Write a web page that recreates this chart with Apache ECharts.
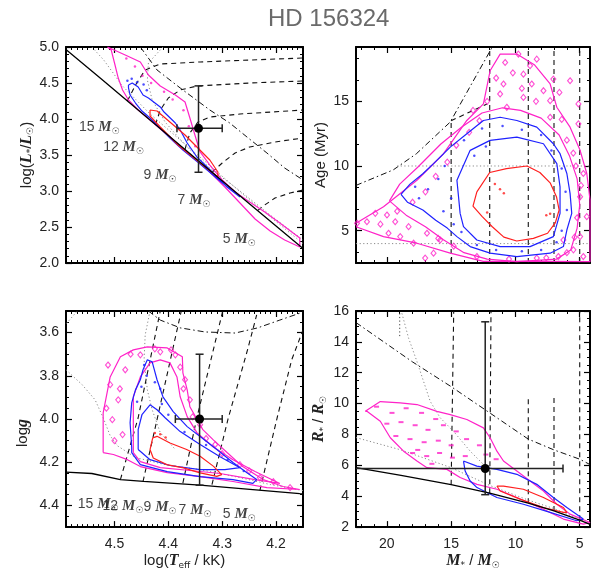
<!DOCTYPE html>
<html>
<head>
<meta charset="utf-8">
<title>HD 156324</title>
<script src="https://cdn.jsdelivr.net/npm/echarts@6.0.0/dist/echarts.min.js"></script>
<style>
  html, body { margin: 0; padding: 0; background: #fff; }
  #chart { width: 591px; height: 571px; }
</style>
</head>
<body>
<div id="chart"></div>
<script>
// ---------- values ----------
var massLabels = [15, 12, 9, 7, 5];

// tick values
var teffMajor = [4.2, 4.3, 4.4, 4.5];
var lumMajor  = [2.0, 2.5, 3.0, 3.5, 4.0, 4.5, 5.0];
var massMajor = [5, 10, 15, 20];
var ageMajor  = [5, 10, 15];
var loggMajor = [3.6, 3.8, 4.0, 4.2, 4.4];
var radMajor  = [2, 4, 6, 8, 10, 12, 14, 16];

// panel 1 : log Teff vs log L
var hrdZams  = [[4.589,4.958],[4.526,4.567],[4.434,3.986],[4.341,3.40],[4.249,2.82],[4.150,2.20]];
var hrdIso4  = [[4.542,5.0],[4.520,4.82],[4.502,4.634],[4.486,4.465],[4.434,4.07],[4.341,3.47],[4.249,2.875],[4.150,2.27]];
var hrdIso10 = [[4.410,5.0],[4.437,4.778],[4.439,4.542],[4.430,4.264],[4.406,3.958],[4.369,3.639],[4.323,3.319],[4.267,3.0],[4.211,2.667],[4.150,2.319]];
var hrdTams  = [[4.452,5.0],[4.421,4.681],[4.378,4.431],[4.323,4.125],[4.286,3.944],[4.254,3.75],[4.217,3.528],[4.184,3.319],[4.150,3.153]];
var hrdTrk15 = [[4.476,4.25],[4.461,4.472],[4.443,4.681],[4.415,4.764],[4.341,4.792],[4.249,4.819],[4.150,4.847]];
var hrdTrk12 = [[4.424,3.92],[4.415,4.125],[4.400,4.292],[4.378,4.403],[4.347,4.458],[4.249,4.5],[4.150,4.528]];
var hrdTrk9  = [[4.369,3.58],[4.360,3.806],[4.345,3.958],[4.323,4.028],[4.267,4.069],[4.150,4.125]];
var hrdTrk7  = [[4.319,3.26],[4.300,3.389],[4.276,3.528],[4.249,3.611],[4.202,3.681],[4.150,3.736]];
var hrdTrk5  = [[4.234,2.73],[4.221,2.806],[4.202,2.903],[4.174,2.972],[4.150,3.014]];
var hrdMag   = [[4.513,5.0],[4.480,4.889],[4.452,4.792],[4.437,4.611],[4.415,4.458],[4.387,4.333],[4.369,4.236],[4.360,4.014],[4.349,3.736],[4.341,3.542],[4.323,3.361],[4.300,3.153],[4.276,2.986],[4.249,2.847],[4.221,2.708],[4.193,2.556],[4.156,2.347],
                [4.156,2.222],[4.184,2.319],[4.211,2.444],[4.239,2.611],[4.267,2.833],[4.295,3.056],[4.323,3.264],[4.350,3.444],[4.378,3.625],[4.406,3.806],[4.434,3.986],[4.456,4.125],[4.474,4.264],[4.485,4.403],[4.493,4.569],[4.499,4.750],[4.506,4.958],[4.513,5.0]];
var hrdBlue  = [[4.474,4.472],[4.467,4.5],[4.456,4.444],[4.447,4.333],[4.437,4.292],[4.415,4.167],[4.408,4.097],[4.387,3.944],[4.378,3.847],[4.365,3.667],[4.347,3.472],[4.328,3.333],[4.291,3.056],[4.267,2.917],
                [4.274,2.958],[4.304,3.139],[4.341,3.375],[4.373,3.569],[4.397,3.736],[4.415,3.875],[4.434,4.014],[4.449,4.111],[4.461,4.222],[4.471,4.333],[4.474,4.431],[4.474,4.472]];
var hrdRed   = [[4.434,4.125],[4.421,4.111],[4.369,3.778],[4.323,3.431],[4.308,3.264],[4.308,3.194],[4.341,3.389],[4.382,3.639],[4.415,3.889],[4.434,4.042],[4.434,4.125]];
var hrdMagBits  = [[4.478,4.84],[4.462,4.73],[4.448,4.60],[4.432,4.50],[4.408,4.38],[4.392,4.27],[4.372,4.12],[4.362,3.90],[4.350,3.62]];
var hrdBlueBits = [[4.476,4.53],[4.468,4.56],[4.458,4.51],[4.446,4.48],[4.440,4.40]];
var hrdLabelPos = [[4.567,3.89],[4.522,3.61],[4.447,3.22],[4.384,2.875],[4.300,2.333]];
var hrdStar  = [4.344, 3.87, 4.384, 4.300, 3.26, 4.46];   // x, y, x-lo, x-hi, y-lo, y-hi

// panel 2 : mass vs age
var ageTrkMass = [15, 12, 9, 7, 5];
var ageTrkTop  = [13.5, 19.2, 19.2, 19.2, 19.2];
var ageHook15  = [[15.0,13.5],[12.2,14.8]];
var ageTams    = [[22.4,8.5],[19.5,9.7],[17.7,10.95],[15.07,13.4],[11.8,19.2]];
var ageIso4    = [[22.4,4.0],[4.2,4.0]];
var ageIso10   = [[19.2,10.0],[4.2,10.0]];
var ageMagOut  = [[22.4,5.57],[20.26,6.85],[17.66,8.9],[15.59,10.95],[13.78,13.52],[12.49,14.8],[11.97,17.36],[11.19,18.65],[9.89,18.65],[8.5,17.8],[7.30,16.34],[6.78,14.54],[5.75,13.0],[4.97,11.21],[4.45,9.42],[4.2,7.4],
                  [4.2,2.6],[7.30,2.62],[12.5,2.62],[15.07,3.26],[17.66,4.03],[20.26,4.54],[22.4,5.3]];
var ageMagIn   = [[19.8,7.3],[19.0,8.6],[17.6,9.9],[15.8,11.7],[14.2,13.0],[12.6,14.1],[11.0,14.5],[9.6,14.3],[8.0,13.7],[6.6,12.4],[5.8,10.8],[5.2,9.0],[5.0,7.0],[5.2,5.2],[5.7,3.5],[6.8,2.8],[9.9,2.6],[12.2,2.8],[14.0,3.3],[15.6,4.3],[17.0,5.3],[18.5,6.2],[19.8,7.3]];
var ageBlueOut = [[18.9,7.8],[18.2,8.6],[17.2,9.4],[16.37,10.18],[15.07,11.46],[13.78,12.49],[12.49,13.52],[11.19,13.77],[9.89,13.52],[8.34,13.0],[7.05,11.72],[6.53,10.95],[6.0,9.42],[5.75,7.88],[5.62,6.34],[6.0,5.05],[6.27,3.77],[7.30,3.26],[9.89,3.0],[11.97,3.26],[13.52,3.77],[14.55,4.54],[15.3,5.2],[16.2,5.8],[17.2,6.6],[18.4,7.2],[18.9,7.8]];
var ageBlueIn  = [[14.3,6.34],[14.55,8.9],[13.52,11.21],[11.97,11.98],[9.89,12.23],[7.82,11.72],[6.78,10.18],[6.53,8.38],[6.53,6.34],[7.05,4.54],[8.86,3.77],[11.19,3.77],[13.0,4.28],[14.04,5.31],[14.3,6.34]];
var ageRed     = [[13.0,8.0],[12.0,9.5],[10.7,9.8],[9.1,10.0],[8.1,9.5],[7.3,8.7],[6.8,7.6],[6.6,6.6],[6.9,5.6],[7.5,4.8],[8.6,4.4],[9.9,4.2],[10.9,4.5],[11.8,5.3],[12.6,6.1],[13.3,6.9],[13.0,8.0]];
var ageMagBits = [[9.77,18.65],[8.34,18.26],[8.86,17.75],[10.8,18.0],[9.38,17.1],[10.93,16.34],[7.05,16.72],[6.58,15.69],[5.75,16.59],[5.10,14.8],[5.10,13.26],[8.73,16.34],[7.82,15.82],[7.30,15.05],
                  [10.67,14.54],[9.38,15.3],[11.19,15.57],[7.30,13.77],
                  [22.32,5.57],[21.55,5.69],[20.9,6.34],[19.99,6.21],[19.35,5.69],[19.87,4.80],[18.96,4.54],[18.31,5.31],[17.92,4.03],[16.88,4.80],[16.37,3.26],[17.02,2.88],[15.85,4.28],
                  [6.27,4.28],[5.49,3.52],[4.72,3.0],[4.97,4.54],[4.45,6.08],[4.97,7.62],[4.72,9.42],[6.66,3.0],[8.34,2.88],
                  [20.5,5.5],[19.2,6.5],[18.0,7.2],[17.0,8.0],[16.2,9.2],[15.3,10.3],[14.6,11.6],[13.6,12.6],[12.8,13.5],[13.3,14.3],[12.2,15.0],[11.5,16.8],[10.2,17.2],[9.5,16.0],[8.4,15.0],
                  [6.4,13.6],[6.0,12.0],[5.5,11.0],[5.3,10.0],[4.9,8.5],[5.2,6.0],[5.4,4.5],[6.0,3.3],[7.6,2.9],[10.5,2.8],[13.0,3.0],[14.8,3.8],[16.0,4.4]];
var ageBlueBits = [[15.5,10.0],[16.0,9.0],[15.0,7.5],[15.6,6.5],[14.8,5.5],[14.0,12.0],[12.6,12.9],[11.0,13.1],[9.5,12.8],[8.0,12.4],[7.2,11.2],[6.4,9.8],[6.1,8.0],[6.0,6.6],[6.4,5.0],[6.8,4.1],
                   [8.0,3.5],[9.5,3.4],[11.5,3.5],[13.0,3.9],[14.2,4.9],[17.5,7.5],[16.8,8.2],[17.8,8.4],[13.2,10.8],[12.3,11.5]];
var ageRedBits  = [[11.6,8.6],[11.2,8.2],[10.9,7.9],[12.2,6.4],[7.6,6.2],[7.3,6.3]];

// panel 3 : log Teff vs log g
var kielZams  = [[4.590,4.246],[4.542,4.252],[4.489,4.280],[4.446,4.288],[4.341,4.306],[4.156,4.345],[4.150,4.346]];
var kielIsoA  = [[4.570,3.503],[4.590,3.56]];
var kielIsoB  = [[4.590,3.772],[4.560,3.841],[4.536,3.911],[4.521,3.994],[4.508,4.077],[4.495,4.123],[4.461,4.178],[4.406,4.211],[4.341,4.234],[4.267,4.271],[4.211,4.303],[4.150,4.331]];
var kielIsoC  = [[4.434,3.5],[4.443,3.611],[4.445,3.726],[4.439,3.865],[4.430,3.957],[4.415,4.063],[4.387,4.141]];
var kielTams  = [[4.437,3.5],[4.415,3.542],[4.378,3.578],[4.332,3.597],[4.276,3.602],[4.234,3.578],[4.193,3.542],[4.150,3.505]];
var kielTrk15 = [[4.489,4.280],[4.456,3.994],[4.415,3.5]];
var kielTrk12 = [[4.447,4.289],[4.421,4.003],[4.376,3.5]];
var kielTrk9  = [[4.373,4.296],[4.347,3.994],[4.299,3.5]];
var kielTrk7  = [[4.319,4.303],[4.289,3.998],[4.253,3.680],[4.236,3.518]];
var kielTrk5  = [[4.230,4.330],[4.198,3.994],[4.171,3.726],[4.150,3.588]];
var kielMagOut = [[4.521,4.155],[4.521,3.971],[4.508,3.805],[4.489,3.712],[4.465,3.680],[4.439,3.666],[4.402,3.671],[4.374,3.712],[4.373,3.786],[4.365,3.865],[4.360,3.943],[4.336,4.049],[4.317,4.095],[4.291,4.155],[4.262,4.220],[4.224,4.280],[4.187,4.312],[4.156,4.326],
                  [4.156,4.335],[4.217,4.317],[4.280,4.289],[4.341,4.266],[4.402,4.248],[4.452,4.220],[4.476,4.188],[4.502,4.164],[4.521,4.155]];
var kielMagIn  = [[4.465,4.155],[4.465,3.897],[4.452,3.805],[4.434,3.740],[4.415,3.726],[4.397,3.740],[4.384,3.805],[4.378,3.897],[4.365,3.989],[4.347,4.063],[4.317,4.128],[4.280,4.188],[4.239,4.243],[4.193,4.298],
                  [4.239,4.280],[4.304,4.252],[4.360,4.238],[4.415,4.225],[4.452,4.197],[4.465,4.155]];
var kielBlueOut = [[4.468,4.132],[4.471,4.017],[4.468,3.925],[4.461,3.865],[4.452,3.818],[4.447,3.772],[4.439,3.726],[4.430,3.735],[4.421,3.818],[4.410,3.897],[4.391,3.966],[4.365,4.035],[4.341,4.081],[4.310,4.141],[4.280,4.201],[4.254,4.248],[4.236,4.280],
                   [4.243,4.298],[4.280,4.280],[4.341,4.266],[4.402,4.243],[4.452,4.211],[4.468,4.155],[4.468,4.132]];
var kielBlueIn  = [[4.456,4.141],[4.456,4.049],[4.449,3.980],[4.434,3.934],[4.421,3.957],[4.406,3.994],[4.378,4.058],[4.341,4.118],[4.304,4.174],[4.267,4.225],[4.295,4.234],[4.341,4.234],[4.397,4.215],[4.434,4.188],[4.456,4.141]];
var kielRed  = [[4.429,4.087],[4.421,4.080],[4.397,4.111],[4.366,4.141],[4.341,4.172],[4.316,4.219],[4.301,4.257],[4.310,4.265],[4.341,4.249],[4.372,4.226],[4.403,4.211],[4.428,4.180],[4.434,4.141],[4.429,4.087]];
var kielMagBits = [[4.508,3.841],[4.493,3.911],[4.504,4.003],[4.485,4.072],[4.480,3.772],[4.452,3.703],[4.415,3.689],[4.387,3.703],[4.369,3.818],[4.360,3.911],[4.341,4.026],[4.313,4.118],[4.267,4.211],[4.230,4.271],[4.174,4.317],
                   [4.512,3.75],[4.515,3.95],[4.500,4.10],[4.490,3.86],[4.470,3.70],[4.425,3.675],[4.395,3.68],[4.378,3.76],[4.372,3.86],[4.355,3.99],[4.330,4.09],[4.300,4.16],[4.250,4.24],[4.205,4.29]];
var kielBlueBits = [[4.445,3.75],[4.440,3.80],[4.450,3.85],[4.458,3.92],[4.425,3.83],[4.415,3.86],[4.412,3.93],[4.400,3.98],[4.370,4.06],[4.330,4.12],[4.290,4.19],[4.260,4.24]];
var kielRedBits  = [[4.425,4.065],[4.415,4.07],[4.405,4.085]];
var kielLabelPos = [[4.569,4.395],[4.523,4.404],[4.447,4.409],[4.382,4.423],[4.300,4.441]];
var kielStar = [4.342, 4.0, 4.387, 4.300, 3.70, 4.306];

// panel 4 : mass vs radius
var mrZams  = [[22.4,5.85],[18.9,5.35],[15.0,4.75],[12.0,4.2],[9.0,3.55],[7.0,3.05],[5.0,2.45],[4.2,2.18]];
var mrTams  = [[22.4,15.25],[18.0,12.7],[15.0,11.1],[12.0,9.4],[9.0,7.7],[7.0,7.0],[5.0,6.4],[4.2,6.05]];
var mrIso4  = [[22.4,7.8],[18.9,7.0],[15.0,5.85],[12.0,4.7],[9.0,3.75],[7.0,3.2],[5.0,2.5],[4.2,2.2]];
var mrIso10 = [[18.83,15.85],[18.31,14.24],[17.66,12.73],[16.63,10.15],[15.85,9.08],[14.82,8.21],[13.52,6.92],[12.49,6.06]];
var mrIsoBit = [[19.0,15.85],[19.0,14.35]];
var mrTrk15 = [[15.0,4.75],[14.8,16]];
var mrTrk12 = [[12.0,4.2],[11.9,16]];
var mrTrk9  = [[9.0,3.55],[9.0,10.3]];
var mrTrk7  = [[7.0,3.05],[7.0,10.5]];
var mrTrk5  = [[5.0,2.45],[5.0,16]];
var mrMag   = [[21.68,9.5],[20.51,10.13],[18.96,10.05],[17.66,9.94],[16.11,9.5],[15.07,9.29],[13.78,8.97],[12.49,8.43],[11.97,7.79],[11.44,6.92],[10.93,6.28],[9.89,5.63],[8.86,4.99],[7.82,4.34],[6.78,3.48],[5.75,2.84],[4.2,2.3],
               [4.72,2.19],[6.27,2.52],[7.82,3.16],[9.89,3.92],[11.44,4.45],[12.99,4.77],[14.3,5.21],[15.33,5.74],[16.88,5.85],[17.66,6.28],[18.7,6.92],[19.73,7.79],[20.51,8.86],[21.55,9.5],[21.68,9.5]];
var mrBlue  = [[14.04,6.28],[13.0,5.95],[11.44,5.74],[9.89,5.42],[8.34,4.77],[7.05,3.92],[6.0,3.27],[4.72,2.52],[5.23,2.41],[7.30,2.95],[9.38,3.48],[11.44,3.92],[12.99,4.56],[13.52,4.99],[13.91,5.63],[14.04,6.28]];
var mrRed   = [[11.44,4.66],[10.93,4.66],[9.38,4.45],[7.82,3.92],[6.27,3.27],[6.0,2.95],[6.27,2.95],[7.82,3.27],[9.64,3.81],[11.19,4.34],[11.44,4.66]];
var mrMagBits = [[20.8,9.8],[19.6,9.4],[18.5,9.7],[17.3,9.4],[16.2,9.0],[20.0,8.7],[18.9,8.8],[17.8,8.6],[16.8,8.3],[15.6,8.6],[14.6,8.2],[19.3,7.9],[18.2,7.7],[17.1,7.5],[16.0,7.6],[15.0,7.3],[13.8,7.7],[12.8,7.3],
                 [18.0,6.8],[16.9,6.6],[15.9,6.8],[14.9,6.5],[13.9,6.6],[12.3,6.7],[11.5,6.4],[16.5,6.1],[17.6,7.0]];
var mrStar  = [12.35, 5.8, 22.6, 6.3, 4.1, 15.3];

// ---------- chart ----------
var C = { mag: '#ff22c8', blu: '#1f22ff', red: '#ff1f1f', grey: '#8a8a8a', ink: '#111' };
var DASH = [5, 4], DOT = [1.2, 2.4], DASHDOT = [6, 3, 1.5, 3];
var FONT = 'Liberation Sans';

function rng(a, b, s) {
  var r = [];
  for (var v = a; v <= b + 1e-9; v += s) r.push(+v.toFixed(4));
  return r;
}
var teffMinor = rng(4.15, 4.59, 0.01);
var lumMinor  = rng(2.0, 5.0, 0.1);
var massMinor = rng(5, 22, 1);
var ageMinor  = rng(10 / 3, 19.2, 5 / 3);
var loggMinor = rng(3.5, 4.5, 0.05);
var radMinor  = rng(2, 16, 0.5);

var richName = {
  bi:  { fontFamily: 'Liberation Serif', fontWeight: 'bold', fontStyle: 'italic', fontSize: 16, color: '#222', lineHeight: 18 },
  sub: { fontFamily: 'DejaVu Sans', fontSize: 9, color: '#222', lineHeight: 10, verticalAlign: 'bottom' }
};

// major + minor axis on each side of a grid
function axes(dim, gi, ext, major, minor, inverse, labFmt, name, nameGap) {
  var sides = dim === 'x' ? ['bottom', 'top'] : ['left', 'right'];
  var out = [];
  sides.forEach(function (side, si) {
    out.push({
      type: 'value', gridIndex: gi, position: side, min: ext[0], max: ext[1], inverse: inverse,
      name: si === 0 ? name : '', nameLocation: 'middle', nameGap: nameGap, nameRotate: dim === 'y' ? 90 : 0,
      nameTextStyle: { fontFamily: FONT, fontSize: 15, color: '#222', lineHeight: 18, rich: richName },
      axisLine: { show: true, onZero: false, lineStyle: { color: '#000', width: 2 } },
      axisTick: { show: true, inside: true, length: 6, customValues: major, lineStyle: { color: '#000', width: 1.2 } },
      axisLabel: { show: !!labFmt && si === 0, customValues: major, formatter: labFmt || '{value}',
                   fontFamily: FONT, fontSize: 14, color: '#222', margin: dim === 'x' ? 10 : 7 },
      splitLine: { show: false }
    });
    out.push({
      type: 'value', gridIndex: gi, position: side, min: ext[0], max: ext[1], inverse: inverse,
      axisLine: { show: false, onZero: false },
      axisTick: { show: true, inside: true, length: 3, customValues: minor, lineStyle: { color: '#000', width: 1 } },
      axisLabel: { show: false },
      splitLine: { show: false }
    });
  });
  return out;
}
function f1(v) { return v.toFixed(1); }
function f0(v) { return String(Math.round(v)); }

var xAxes = [].concat(
  axes('x', 0, [4.15, 4.59], teffMajor, teffMinor, true, null, '', 0),
  axes('x', 1, [4.2, 22.4], massMajor, massMinor, true, null, '', 0),
  axes('x', 2, [4.15, 4.59], teffMajor, teffMinor, true, f1, 'log({bi|T}{sub|eff} / kK)', 23),
  axes('x', 3, [4.2, 22.4], massMajor, massMinor, true, f0, '{bi|M}{sub|*} / {bi|M}{sub|☉}', 23)
);
var yAxes = [].concat(
  axes('y', 0, [2.0, 5.0], lumMajor, lumMinor, false, f1, 'log({bi|L}{sub|*}/{bi|L}{sub|☉})', 30),
  axes('y', 1, [2.5, 19.2], ageMajor, ageMinor, false, f0, 'Age (Myr)', 26),
  axes('y', 2, [3.5, 4.5], loggMajor, loggMinor, true, f1, '', 35),
  axes('y', 3, [2, 16], radMajor, radMinor, false, f0, '{bi|R}{sub|*} / {bi|R}{sub|☉}', 28)
);

function line(gi, data, color, type, width, z) {
  return { type: 'line', xAxisIndex: gi * 4, yAxisIndex: gi * 4, data: data, showSymbol: false, symbol: 'none',
           silent: true, z: z || 2, lineStyle: { color: color, type: type, width: width || 1 } };
}
function bits(gi, data, symbol, size, color, filled) {
  return { type: 'scatter', xAxisIndex: gi * 4, yAxisIndex: gi * 4, data: data, symbol: symbol, symbolSize: size,
           silent: true, z: 3,
           itemStyle: filled ? { color: color } : { color: 'rgba(255,255,255,0)', borderColor: color, borderWidth: 1.1 } };
}
function massText(gi, pos) {
  return {
    type: 'scatter', xAxisIndex: gi * 4, yAxisIndex: gi * 4, data: pos, symbolSize: 1, silent: true, z: 6,
    itemStyle: { color: 'rgba(0,0,0,0)' },
    label: {
      show: true, position: 'right', distance: 0,
      formatter: function (p) { return '{n|' + massLabels[p.dataIndex] + ' }{m|M}{s|☉}'; },
      rich: {
        n: { fontFamily: FONT, fontSize: 14, color: C.ink, lineHeight: 18 },
        m: { fontFamily: 'Liberation Serif', fontWeight: 'bold', fontStyle: 'italic', fontSize: 15, color: C.ink, lineHeight: 18 },
        s: { fontFamily: 'DejaVu Sans', fontSize: 9, color: C.ink, lineHeight: 10, verticalAlign: 'bottom' }
      }
    }
  };
}
function errBar(gi, star) {
  return {
    type: 'custom', xAxisIndex: gi * 4, yAxisIndex: gi * 4, data: [star], clip: true, z: 8, silent: true,
    renderItem: function (params, api) {
      var c  = api.coord([api.value(0), api.value(1)]);
      var xl = api.coord([api.value(2), api.value(1)])[0];
      var xh = api.coord([api.value(3), api.value(1)])[0];
      var yl = api.coord([api.value(0), api.value(4)])[1];
      var yh = api.coord([api.value(0), api.value(5)])[1];
      var k = 4, st = { stroke: '#222', lineWidth: 1.5 };
      return { type: 'group', children: [
        { type: 'line', shape: { x1: xl, y1: c[1], x2: xh, y2: c[1] }, style: st },
        { type: 'line', shape: { x1: xl, y1: c[1] - k, x2: xl, y2: c[1] + k }, style: st },
        { type: 'line', shape: { x1: xh, y1: c[1] - k, x2: xh, y2: c[1] + k }, style: st },
        { type: 'line', shape: { x1: c[0], y1: yl, x2: c[0], y2: yh }, style: st },
        { type: 'line', shape: { x1: c[0] - k, y1: yl, x2: c[0] + k, y2: yl }, style: st },
        { type: 'line', shape: { x1: c[0] - k, y1: yh, x2: c[0] + k, y2: yh }, style: st },
        { type: 'circle', shape: { cx: c[0], cy: c[1], r: 4.5 }, style: { fill: '#000' } }
      ] };
    }
  };
}

var CW = 1.2; // contour width
var series = [];
// panel 1
[hrdTrk15, hrdTrk12, hrdTrk9, hrdTrk7, hrdTrk5].forEach(function (t) { series.push(line(0, t, '#111', DASH, 1.1)); });
series.push(line(0, hrdIso4, C.grey, DOT, 1), line(0, hrdIso10, C.grey, DOT, 1), line(0, hrdTams, '#111', DASHDOT, 1));
series.push(line(0, hrdMag, C.mag, 'solid', CW, 4), line(0, hrdBlue, C.blu, 'solid', CW, 4), line(0, hrdRed, C.red, 'solid', CW, 4));
series.push(bits(0, hrdMagBits, 'circle', 2.5, C.mag, true), bits(0, hrdBlueBits, 'circle', 2.5, C.blu, true));
series.push(line(0, hrdZams, '#000', 'solid', 1.3, 5), massText(0, hrdLabelPos), errBar(0, hrdStar));
// panel 2
ageTrkMass.forEach(function (m, i) { series.push(line(1, [[m, 2.5], [m, ageTrkTop[i]]], '#111', DASH, 1.1)); });
series.push(line(1, ageHook15, '#111', DASH, 1.1), line(1, ageTams, '#111', DASHDOT, 1));
series.push(line(1, ageIso4, C.grey, DOT, 1), line(1, ageIso10, C.grey, DOT, 1));
series.push(line(1, ageMagOut, C.mag, 'solid', CW, 4), line(1, ageMagIn, C.mag, 'solid', CW, 4), bits(1, ageMagBits, 'diamond', [5, 6], C.mag, false));
series.push(line(1, ageBlueOut, C.blu, 'solid', CW, 4), line(1, ageBlueIn, C.blu, 'solid', CW, 4), line(1, ageRed, C.red, 'solid', CW, 4));
series.push(bits(1, ageBlueBits, 'circle', 2.5, C.blu, true), bits(1, ageRedBits, 'circle', 2.5, C.red, true));
// panel 3
[kielTrk15, kielTrk12, kielTrk9, kielTrk7, kielTrk5].forEach(function (t) { series.push(line(2, t, '#111', DASH, 1.1)); });
series.push(line(2, kielIsoA, C.grey, DOT, 1), line(2, kielIsoB, C.grey, DOT, 1), line(2, kielIsoC, C.grey, DOT, 1), line(2, kielTams, '#111', DASHDOT, 1));
series.push(line(2, kielMagOut, C.mag, 'solid', CW, 4), line(2, kielMagIn, C.mag, 'solid', CW, 4), bits(2, kielMagBits, 'diamond', [5, 6], C.mag, false));
series.push(line(2, kielBlueOut, C.blu, 'solid', CW, 4), line(2, kielBlueIn, C.blu, 'solid', CW, 4), line(2, kielRed, C.red, 'solid', CW, 4));
series.push(bits(2, kielBlueBits, 'circle', 2.5, C.blu, true), bits(2, kielRedBits, 'circle', 2.5, C.red, true));
series.push(line(2, kielZams, '#000', 'solid', 1.3, 5), massText(2, kielLabelPos), errBar(2, kielStar));
// panel 4
[mrTrk15, mrTrk12, mrTrk9, mrTrk7, mrTrk5].forEach(function (t) { series.push(line(3, t, '#111', DASH, 1.1)); });
series.push(line(3, mrIso4, C.grey, DOT, 1), line(3, mrIso10, C.grey, DOT, 1), line(3, mrIsoBit, '#444', DOT, 1), line(3, mrTams, '#111', DASHDOT, 1));
series.push(line(3, mrMag, C.mag, 'solid', CW, 4), bits(3, mrMagBits, 'rect', [5, 2], C.mag, true));
series.push(line(3, mrBlue, C.blu, 'solid', CW, 4), line(3, mrRed, C.red, 'solid', CW, 4));
series.push(line(3, mrZams, '#000', 'solid', 1.3, 5), errBar(3, mrStar));

var chart = echarts.init(document.getElementById('chart'), null, { renderer: 'canvas' });
chart.setOption({
  animation: false,
  backgroundColor: '#fff',
  title: { text: 'HD 156324', left: 263, top: 2,
           textStyle: { fontFamily: FONT, fontSize: 24, fontWeight: 'normal', color: '#6a6a6a' } },
  grid: [
    { left: 66, top: 47, width: 237, height: 216 },
    { left: 356, top: 47, width: 234, height: 216 },
    { left: 66, top: 311, width: 237, height: 217 },
    { left: 356, top: 311, width: 234, height: 217 }
  ],
  // log g axis title sits a little below the panel middle in the original
  graphic: [{
    type: 'text', x: 23, y: 433, rotation: Math.PI / 2,
    style: {
      text: 'log{bi|g}', fill: '#222', font: '15px "Liberation Sans"',
      align: 'center', verticalAlign: 'middle', textAlign: 'center', textVerticalAlign: 'middle',
      rich: { bi: { fontFamily: 'Liberation Serif', fontWeight: 'bold', fontStyle: 'italic', fontSize: 16, fill: '#222' } }
    }
  }],
  xAxis: xAxes,
  yAxis: yAxes,
  series: series
});
</script>
</body>
</html>
